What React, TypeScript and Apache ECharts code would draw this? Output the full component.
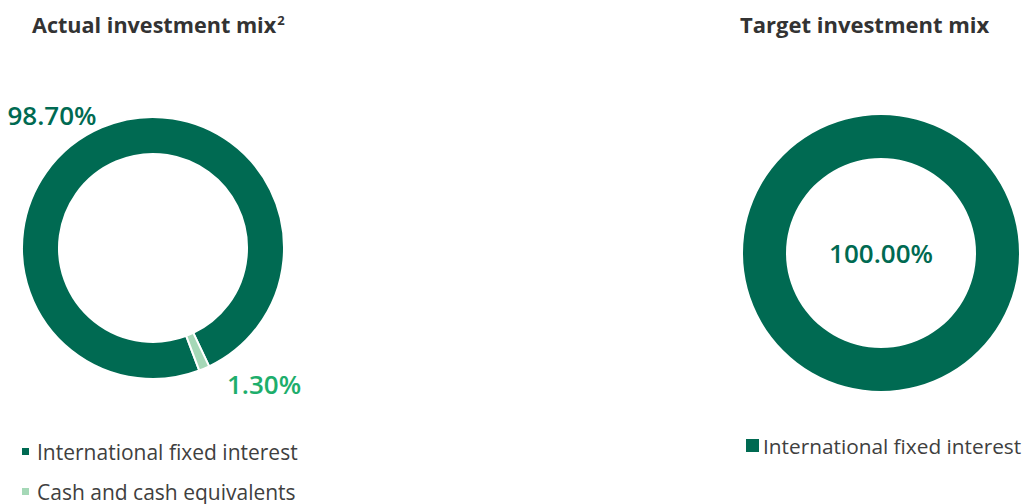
import React, { useEffect, useRef } from "react";
import * as echarts from "echarts";

const actualCategories = ["International fixed interest", "Cash and cash equivalents"];
const actualValues = [98.7, 1.3];
const targetCategories = ["International fixed interest"];
const targetValues = [100.0];

const DARK = "#006A52";
const LIGHT = "#A5D8B7";
const CASH_LABEL = "#1DAE6C";
const FONT = "'Open Sans', 'Noto Sans', sans-serif";

export default function App() {
  const ref = useRef<HTMLDivElement>(null);
  useEffect(() => {
    if (!ref.current) return;
    const chart = echarts.init(ref.current, undefined, { renderer: "svg" });
    const labelPos = [
      { x: 52, y: 115 },
      { x: 264, y: 384 },
    ];
    const legendText = { fontFamily: FONT, fontSize: 21, color: "#404040" };
    chart.setOption({
      animation: false,
      textStyle: { fontFamily: FONT },
      title: [
        {
          text: "{a|Actual investment mix}{b|2}",
          left: 27,
          top: 8,
          textStyle: {
            rich: {
              a: { fontFamily: FONT, fontSize: 21.6, fontWeight: "bold", color: "#333333" },
              b: { fontFamily: FONT, fontSize: 13, color: "#333333", verticalAlign: "top", padding: [0, 0, 10, 1] },
            },
          },
        },
        {
          text: "Target investment mix",
          left: 735,
          top: 8,
          textStyle: { fontFamily: FONT, fontSize: 22, fontWeight: "bold", color: "#333333" },
        },
      ],
      legend: [
        {
          data: [actualCategories[0]],
          left: 15,
          top: 436,
          itemWidth: 9,
          itemHeight: 9,
          icon: "rect",
          selectedMode: false,
          textStyle: { ...legendText, padding: [0, 0, 0, 2] },
        },
        {
          data: [actualCategories[1]],
          left: 15,
          top: 476,
          itemWidth: 9,
          itemHeight: 9,
          icon: "rect",
          selectedMode: false,
          textStyle: { ...legendText, padding: [0, 0, 0, 2] },
        },
        {
          data: targetCategories,
          left: 739,
          top: 430,
          itemWidth: 15,
          itemHeight: 15,
          itemGap: 6,
          icon: "rect",
          selectedMode: false,
          textStyle: { ...legendText, fontSize: 20.8, padding: [0, 0, 0, -2] },
        },
      ],
      series: [
        {
          type: "pie",
          center: [153, 248],
          radius: [94, 131],
          startAngle: -69.3,
          clockwise: true,
          silent: true,
          itemStyle: { borderColor: "#ffffff", borderWidth: 2 },
          label: {
            show: true,
            position: "outside",
            fontFamily: FONT,
            fontSize: 26,
            fontWeight: 600,
            overflow: "none",
            formatter: (p: any) => p.value.toFixed(2) + "%",
          },
          labelLine: { show: false },
          labelLayout: (p: any) => ({
            x: labelPos[p.dataIndex].x,
            y: labelPos[p.dataIndex].y,
            align: "center",
            verticalAlign: "middle",
          }),
          data: actualCategories.map((name, i) => ({
            name,
            value: actualValues[i],
            itemStyle: { color: i === 0 ? DARK : LIGHT },
            label: { color: i === 0 ? DARK : CASH_LABEL },
          })),
        },
        {
          type: "pie",
          center: [881, 253],
          radius: [95, 138],
          silent: true,
          label: {
            show: true,
            position: "center",
            fontFamily: FONT,
            fontSize: 26,
            fontWeight: 600,
            color: DARK,
            formatter: (p: any) => p.value.toFixed(2) + "%",
          },
          labelLine: { show: false },
          data: targetCategories.map((name, i) => ({
            name,
            value: targetValues[i],
            itemStyle: { color: DARK },
          })),
        },
      ],
    });
    return () => chart.dispose();
  }, []);
  return (
    <div
      ref={ref}
      style={{ position: "fixed", left: 0, top: 0, width: 1029, height: 504, background: "#ffffff" }}
    />
  );
}
